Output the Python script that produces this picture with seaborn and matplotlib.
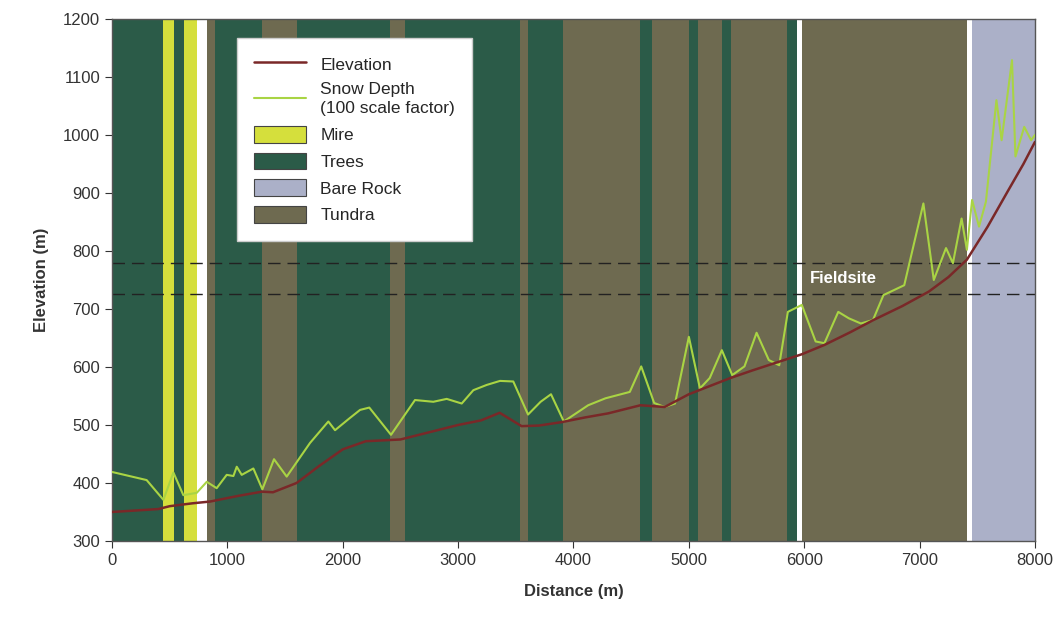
import matplotlib
matplotlib.use("Agg")
import matplotlib.pyplot as plt
import seaborn as sns
import pandas as pd
from matplotlib.patches import Patch
from matplotlib.lines import Line2D

# ---- data ----
# land-cover bands: (start, end, class)
band_start = [0, 443, 538, 624, 737, 823, 893, 1300, 1603, 2409, 2539, 3536, 3606, 3912, 4578, 4684, 5000, 5077, 5290, 5367, 5852, 5935, 5985, 7415, 7458]
band_end   = [443, 538, 624, 737, 823, 893, 1300, 1603, 2409, 2539, 3536, 3606, 3912, 4578, 4684, 5000, 5077, 5290, 5367, 5852, 5935, 5985, 7415, 7458, 8000]
band_class = ["Trees", "Mire", "Trees", "Mire", "None", "Tundra", "Trees", "Tundra", "Trees", "Tundra",
              "Trees", "Tundra", "Trees", "Tundra", "Trees", "Tundra", "Trees", "Tundra", "Trees",
              "Tundra", "Trees", "None", "Tundra", "None", "Bare Rock"]

elev_x = [0, 400, 500, 700, 850, 1100, 1300, 1395, 1600, 1800, 2000, 2200, 2500, 2800, 3000, 3200, 3360,
          3550, 3700, 3900, 4100, 4300, 4580, 4790, 5000, 5180, 5360, 5550, 5750, 5980, 6175, 6400, 6600,
          6850, 7080, 7250, 7410, 7590, 7770, 7900, 8000]
elev_y = [350, 355, 360, 365, 368, 378, 385, 384, 400, 430, 458, 472, 475, 490, 500, 508, 521,
          498, 499, 505, 513, 520, 534, 531, 553, 567, 581, 594, 607, 622, 638, 660, 681,
          705, 730, 755, 785, 842, 905, 950, 988]

snow_x = [0, 300, 445, 532, 618, 734, 821, 907, 994, 1052, 1081, 1124, 1225, 1303, 1404, 1514, 1716, 1875,
          1933, 2049, 2150, 2230, 2418, 2626, 2785, 2901, 3031, 3132, 3247, 3363, 3478, 3606, 3715, 3805,
          3916, 4127, 4277, 4488, 4587, 4699, 4789, 4880, 5000, 5096, 5181, 5286, 5376, 5482, 5587, 5693,
          5783, 5858, 5979, 6099, 6175, 6295, 6386, 6491, 6596, 6687, 6867, 7033, 7123, 7229, 7289, 7364,
          7410, 7455, 7515, 7575, 7666, 7711, 7801, 7831, 7907, 7967, 8000]
snow_y = [419, 405, 371, 418, 379, 383, 402, 391, 414, 412, 428, 414, 425, 389, 441, 411, 469, 506,
          491, 510, 526, 530, 483, 543, 540, 545, 537, 560, 569, 576, 575, 518, 540, 553,
          506, 534, 546, 557, 601, 538, 531, 537, 652, 563, 581, 629, 586, 601, 659, 612,
          603, 695, 707, 644, 641, 695, 684, 675, 681, 724, 741, 882, 750, 805, 779, 856,
          802, 888, 842, 885, 1060, 991, 1129, 963, 1014, 991, 1000]

fieldsite_lines = [780, 725]

colors = {"Mire": "#d5df3c", "Trees": "#2b5b48", "Bare Rock": "#abb0c8", "Tundra": "#6e6a50", "None": "#ffffff"}
elev_color = "#7a2828"
snow_color = "#a9d444"

sns.set_style("ticks")
plt.rcParams["font.family"] = ["Liberation Sans", "DejaVu Sans"]

fig = plt.figure(figsize=(10.64, 6.27), dpi=100)
ax = fig.add_axes([0.1053, 0.1372, 0.8674, 0.8325])

for s, e, c in zip(band_start, band_end, band_class):
    ax.axvspan(s, e, color=colors[c], lw=0, zorder=0)

for yv in fieldsite_lines:
    ax.axhline(yv, color="#222222", lw=1.0, ls=(0, (9, 5)), zorder=1)

df_e = pd.DataFrame({"x": elev_x, "y": elev_y})
df_s = pd.DataFrame({"x": snow_x, "y": snow_y})
sns.lineplot(data=df_s, x="x", y="y", ax=ax, color=snow_color, lw=1.5, zorder=3, estimator=None)
sns.lineplot(data=df_e, x="x", y="y", ax=ax, color=elev_color, lw=1.8, zorder=4, estimator=None)

ax.text(6050, 753, "Fieldsite", color="white", fontsize=12, fontweight="bold", va="center", ha="left", zorder=5)

ax.set_xlim(0, 8000)
ax.set_ylim(300, 1200)
ax.set_xticks(range(0, 8001, 1000))
ax.set_yticks(range(300, 1201, 100))
ax.tick_params(axis="both", labelsize=12, colors="#333333", length=5, direction="out")
ax.set_xlabel("Distance (m)", fontsize=12, fontweight="bold", labelpad=12, color="#333333")
ax.set_ylabel("Elevation (m)", fontsize=12, fontweight="bold", labelpad=10, color="#333333")
for sp in ax.spines.values():
    sp.set_color("#555555")
    sp.set_linewidth(1.0)

handles = [
    Line2D([0], [0], color=elev_color, lw=1.8),
    Line2D([0], [0], color=snow_color, lw=1.5),
    Patch(facecolor=colors["Mire"], edgecolor="#444444", lw=0.8),
    Patch(facecolor=colors["Trees"], edgecolor="#444444", lw=0.8),
    Patch(facecolor=colors["Bare Rock"], edgecolor="#444444", lw=0.8),
    Patch(facecolor=colors["Tundra"], edgecolor="#444444", lw=0.8),
]
labels = ["Elevation", "Snow Depth\n(100 scale factor)", "Mire", "Trees", "Bare Rock", "Tundra"]
leg = ax.legend(handles, labels, loc="upper left", bbox_to_anchor=(0.1354, 0.9636), borderaxespad=0,
                fontsize=12.5, frameon=True, fancybox=False, framealpha=1, edgecolor="#cccccc",
                handlelength=3.0, handleheight=1.1, labelspacing=0.55, borderpad=1.0, handletextpad=0.8)
for t in leg.get_texts():
    t.set_linespacing(1.35)
leg.set_zorder(10)

fig.savefig("out.png", dpi=100)
